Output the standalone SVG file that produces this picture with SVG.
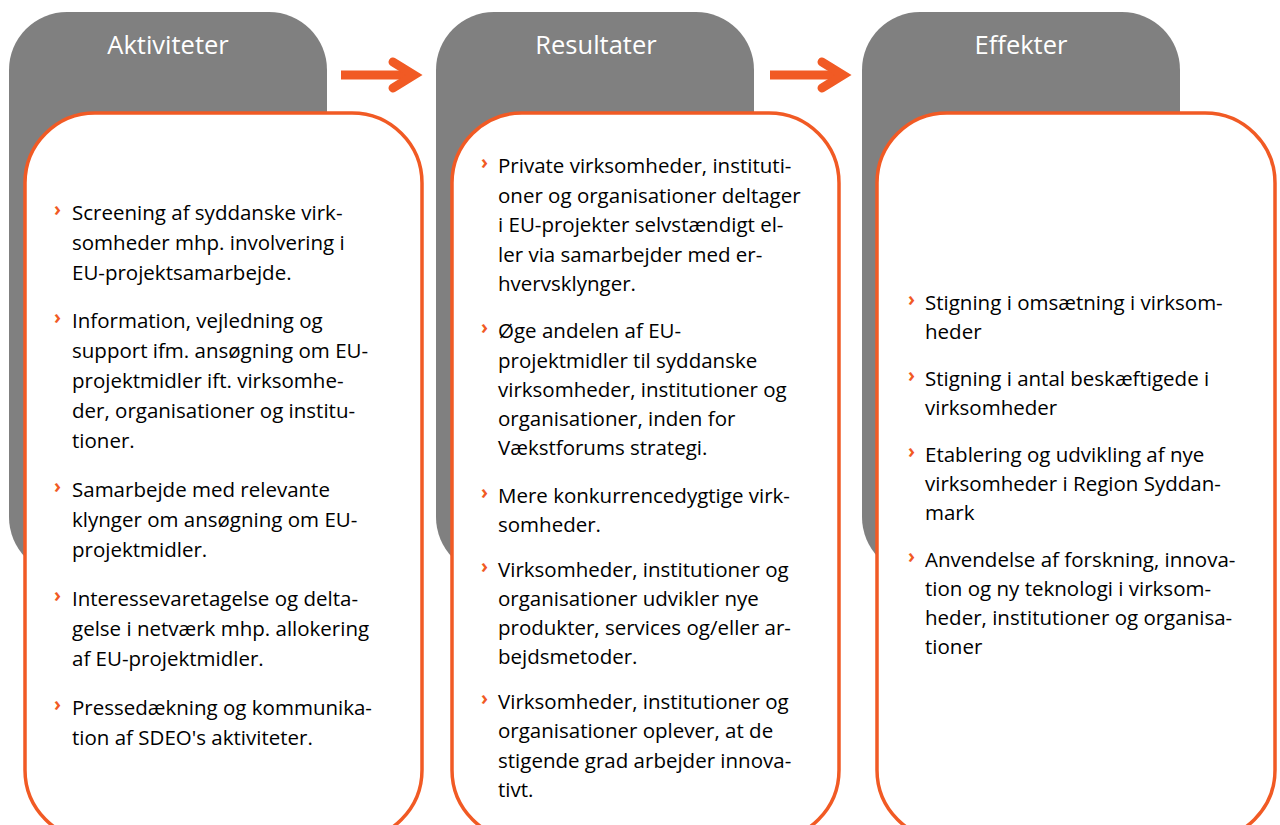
<svg xmlns="http://www.w3.org/2000/svg" width="1280" height="825" viewBox="0 0 1280 825">
<style>
.hdr{fill:#808080}
.box{fill:#ffffff;stroke:#F15A24;stroke-width:3.5}
.title{font-family:"Open Sans","Liberation Sans",sans-serif;font-size:25.5px;fill:#ffffff;text-anchor:middle}
.t{font-family:"Open Sans","Liberation Sans",sans-serif;font-size:20.5px;fill:#000000}
.b{font-family:"Open Sans","Liberation Sans",sans-serif;font-size:19px;font-weight:700;fill:#F15A24}
.arr{fill:#F15A24}
.chev{fill:none;stroke:#F15A24;stroke-width:9;stroke-linecap:round;stroke-linejoin:miter;stroke-miterlimit:10}
</style>
<rect width="1280" height="825" fill="#ffffff"/>

<g id="node-aktiviteter">
<rect class="hdr" x="9" y="12" width="318" height="563" rx="58" ry="58"/>
<text class="title" x="168" y="54">Aktiviteter</text>
<rect class="box" x="25" y="113" width="397" height="727" rx="70" ry="70"/>
<text class="b" x="54" y="216">›</text>
<text class="t" x="72" y="220">Screening af syddanske virk-</text>
<text class="t" x="72" y="250">somheder mhp. involvering i</text>
<text class="t" x="72" y="280">EU-projektsamarbejde.</text>
<text class="b" x="54" y="324">›</text>
<text class="t" x="72" y="328">Information, vejledning og</text>
<text class="t" x="72" y="358">support ifm. ansøgning om EU-</text>
<text class="t" x="72" y="388">projektmidler ift. virksomhe-</text>
<text class="t" x="72" y="418">der, organisationer og institu-</text>
<text class="t" x="72" y="448">tioner.</text>
<text class="b" x="54" y="493">›</text>
<text class="t" x="72" y="497">Samarbejde med relevante</text>
<text class="t" x="72" y="527">klynger om ansøgning om EU-</text>
<text class="t" x="72" y="557">projektmidler.</text>
<text class="b" x="54" y="602">›</text>
<text class="t" x="72" y="606">Interessevaretagelse og delta-</text>
<text class="t" x="72" y="636">gelse i netværk mhp. allokering</text>
<text class="t" x="72" y="666">af EU-projektmidler.</text>
<text class="b" x="54" y="711">›</text>
<text class="t" x="72" y="715">Pressedækning og kommunika-</text>
<text class="t" x="72" y="745">tion af SDEO's aktiviteter.</text>
</g>

<g id="node-resultater">
<rect class="hdr" x="436" y="12" width="318" height="563" rx="58" ry="58"/>
<text class="title" x="596" y="54">Resultater</text>
<rect class="box" x="452" y="113" width="387" height="727" rx="70" ry="70"/>
<text class="b" x="481" y="169">›</text>
<text class="t" x="498" y="173">Private virksomheder, instituti-</text>
<text class="t" x="498" y="203">oner og organisationer deltager</text>
<text class="t" x="498" y="232">i EU-projekter selvstændigt el-</text>
<text class="t" x="498" y="262">ler via samarbejder med er-</text>
<text class="t" x="498" y="291">hvervsklynger.</text>
<text class="b" x="481" y="334">›</text>
<text class="t" x="498" y="338">Øge andelen af EU-</text>
<text class="t" x="498" y="368">projektmidler til syddanske</text>
<text class="t" x="498" y="397">virksomheder, institutioner og</text>
<text class="t" x="498" y="426">organisationer, inden for</text>
<text class="t" x="498" y="455">Vækstforums strategi.</text>
<text class="b" x="481" y="499">›</text>
<text class="t" x="498" y="503">Mere konkurrencedygtige virk-</text>
<text class="t" x="498" y="532">somheder.</text>
<text class="b" x="481" y="573">›</text>
<text class="t" x="498" y="577">Virksomheder, institutioner og</text>
<text class="t" x="498" y="606">organisationer udvikler nye</text>
<text class="t" x="498" y="635">produkter, services og/eller ar-</text>
<text class="t" x="498" y="664">bejdsmetoder.</text>
<text class="b" x="481" y="705">›</text>
<text class="t" x="498" y="709">Virksomheder, institutioner og</text>
<text class="t" x="498" y="738">organisationer oplever, at de</text>
<text class="t" x="498" y="768">stigende grad arbejder innova-</text>
<text class="t" x="498" y="797">tivt.</text>
</g>

<g id="node-effekter">
<rect class="hdr" x="862" y="12" width="318" height="563" rx="58" ry="58"/>
<text class="title" x="1021" y="54">Effekter</text>
<rect class="box" x="877" y="113" width="398" height="727" rx="70" ry="70"/>
<text class="b" x="908" y="306">›</text>
<text class="t" x="925" y="310">Stigning i omsætning i virksom-</text>
<text class="t" x="925" y="339">heder</text>
<text class="b" x="908" y="382">›</text>
<text class="t" x="925" y="386">Stigning i antal beskæftigede i</text>
<text class="t" x="925" y="415">virksomheder</text>
<text class="b" x="908" y="458">›</text>
<text class="t" x="925" y="462">Etablering og udvikling af nye</text>
<text class="t" x="925" y="491">virksomheder i Region Syddan-</text>
<text class="t" x="925" y="520">mark</text>
<text class="b" x="908" y="563">›</text>
<text class="t" x="925" y="567">Anvendelse af forskning, innova-</text>
<text class="t" x="925" y="596">tion og ny teknologi i virksom-</text>
<text class="t" x="925" y="625">heder, institutioner og organisa-</text>
<text class="t" x="925" y="654">tioner</text>
</g>

<g id="connectors">
<rect class="arr" x="341" y="70.5" width="70" height="9"/>
<polyline class="chev" points="393,62 414,75 393,88"/>
<rect class="arr" x="770" y="70.5" width="70" height="9"/>
<polyline class="chev" points="822,62 843,75 822,88"/>
</g>
</svg>
